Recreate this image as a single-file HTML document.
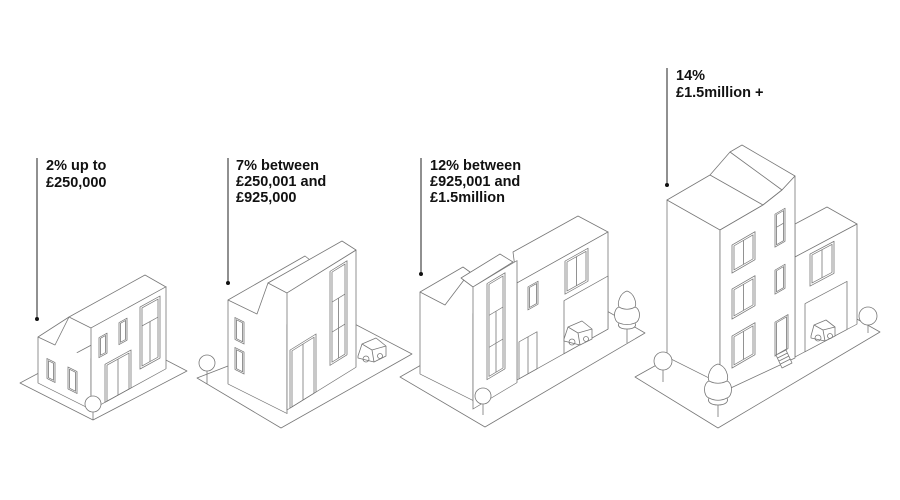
<!DOCTYPE html>
<html><head><meta charset="utf-8"><style>
html,body{margin:0;padding:0;background:#fff;}
svg{display:block}
.t{font-family:"Liberation Sans",sans-serif;font-weight:bold;font-size:14.5px;fill:#111}
</style></head><body>
<svg width="900" height="500" viewBox="0 0 900 500" xmlns="http://www.w3.org/2000/svg">
<g fill="none" stroke="#777" stroke-width="0.8" stroke-linejoin="round">

<!-- ===== Building 1 ===== -->
<polygon points="20,383 93,420 187,371 114,333" fill="#fff"/>
<g transform="matrix(1,0.5,0,1,38,337)">
  <path d="M0,0 L0,46 L53,46 L53,-5" fill="#fff"/>
  <rect x="9" y="17" width="8" height="20"/><rect x="10.5" y="18.5" width="5" height="17"/>
  <rect x="30" y="15" width="9" height="22"/><rect x="31.5" y="16.5" width="6" height="19"/>
</g>
<polygon points="38,337 69,317 55,345" fill="#fff"/>
<polygon points="69,317 145,275 166,287 91,328" fill="#fff"/>
<g transform="matrix(1,-0.55,0,1,91,328)">
  <rect x="0" y="0" width="75" height="82" fill="#fff"/>
  <rect x="8" y="14" width="8" height="20"/><rect x="9.5" y="15.5" width="5" height="17"/>
  <rect x="28" y="10" width="8" height="22"/><rect x="29.5" y="11.5" width="5" height="19"/>
  <rect x="49" y="6" width="20" height="62"/><rect x="51" y="8" width="16" height="58"/><line x1="51" y1="26" x2="67" y2="26"/><line x1="59" y1="26" x2="59" y2="66"/>
  <rect x="14" y="44" width="26" height="38"/><rect x="16" y="46" width="22" height="36"/><line x1="27" y1="46" x2="27" y2="82"/>
</g>
<line x1="93" y1="405" x2="93" y2="420"/><circle cx="93" cy="404" r="8" fill="#fff"/>

<!-- ===== Building 2 ===== -->
<polygon points="197,378 281,428 412,354 347,320" fill="#fff"/>
<!-- car -->
<g transform="translate(372,352)">
  <path d="M-14,4 L-10,-8 L4,-14 L14,-6 L14,4 L2,10 L-14,6 Z" fill="#fff"/>
  <path d="M-10,-8 L0,-2 L14,-6 M0,-2 L2,10"/>
  <circle cx="-6" cy="7" r="3"/><circle cx="8" cy="4" r="2.5"/>
</g>
<line x1="207" y1="368" x2="207" y2="384"/><circle cx="207" cy="363" r="8" fill="#fff"/>
<g transform="matrix(1,0.5,0,1,228,300)">
  <path d="M0,0 L0,84 L59,84 L59,-5" fill="#fff"/>
  <rect x="7" y="14" width="9" height="22"/><rect x="8.5" y="15.5" width="6" height="19"/>
  <rect x="7" y="44" width="9" height="22"/><rect x="8.5" y="45.5" width="6" height="19"/>
</g>
<polygon points="228,300 305,256 310,260 268,283 257,314" fill="#fff"/>
<polygon points="268,283 342,241 356,250 287,293" fill="#fff"/>
<g transform="matrix(1,-0.62,0,1,287,293)">
  <rect x="0" y="0" width="69" height="117" fill="#fff"/>
  <rect x="43" y="5" width="17" height="94"/><rect x="45" y="7" width="13" height="90"/>
  <line x1="45" y1="37" x2="58" y2="37"/><line x1="45" y1="67" x2="58" y2="67"/><line x1="51.5" y1="37" x2="51.5" y2="97"/>
  <rect x="3" y="59" width="26" height="58"/><rect x="5" y="61" width="22" height="56"/><line x1="16" y1="61" x2="16" y2="117"/>
</g>

<!-- ===== Building 3 ===== -->
<polygon points="400,377 485,427 645,333 562,285" fill="#fff"/>
<g transform="translate(627,315)">
  <line x1="0" y1="10" x2="0" y2="28"/>
  <path d="M0,-24 C-7,-22 -10,-12 -8,-8 C-14,-6 -14,6 -8,8 C-10,12 -6,14 0,14 C6,14 10,12 8,8 C14,6 14,-6 8,-8 C10,-12 7,-22 0,-24 Z" fill="#fff"/>
  <path d="M-8,-8 C-3,-5 3,-5 8,-8 M-8,8 C-3,10 3,10 8,8"/>
</g>
<g transform="matrix(1,0.5,0,1,420,292)">
  <path d="M0,0 L0,82 L53,82 L53,-5" fill="#fff"/>
</g>
<polygon points="420,292 463,267 470,272 445,305" fill="#fff"/>
<polygon points="513,252 578,216 608,232 517,283" fill="#fff"/>
<g transform="matrix(1,-0.56,0,1,517,283)">
  <rect x="0" y="0" width="91" height="97" fill="#fff"/>
  <rect x="11" y="10" width="10" height="23"/><rect x="12.5" y="11.5" width="7" height="20"/>
  <rect x="48" y="5" width="23" height="33"/><rect x="50" y="7" width="19" height="29"/><line x1="59.5" y1="7" x2="59.5" y2="36"/>
  <rect x="47" y="44" width="44" height="53" fill="#fff"/>
  <rect x="2" y="60" width="18" height="37"/><line x1="11" y1="60" x2="11" y2="97"/>
</g>
<g transform="translate(578,335)">
  <path d="M-14,4 L-10,-8 L4,-14 L14,-6 L14,4 L2,10 L-14,6 Z" fill="#fff"/>
  <path d="M-10,-8 L0,-2 L14,-6 M0,-2 L2,10"/>
  <circle cx="-6" cy="7" r="3"/><circle cx="8" cy="4" r="2.5"/>
</g>
<polygon points="461,278 500,254 513,262 473,287" fill="#fff"/>
<g transform="matrix(1,-0.6,0,1,473,287)">
  <rect x="0" y="0" width="44" height="122" fill="#fff"/>
  <rect x="14" y="5" width="18" height="96"/><rect x="16" y="7" width="14" height="92"/>
  <line x1="16" y1="38" x2="30" y2="38"/><line x1="16" y1="70" x2="30" y2="70"/><line x1="23" y1="38" x2="23" y2="99"/>
</g>
<line x1="483" y1="398" x2="483" y2="415"/><circle cx="483" cy="396" r="8" fill="#fff"/>

<!-- ===== Building 4 ===== -->
<polygon points="635,377 718,428 880,332 798,286" fill="#fff"/>
<line x1="868" y1="318" x2="868" y2="333"/><circle cx="868" cy="316" r="9" fill="#fff"/>
<polygon points="795,224 827,207 857,224 795,257" fill="#fff"/>
<g transform="matrix(1,-0.53,0,1,795,257)">
  <rect x="0" y="0" width="62" height="100" fill="#fff"/>
  <rect x="15" y="5" width="24" height="32"/><rect x="17" y="7" width="20" height="28"/><line x1="27" y1="7" x2="27" y2="35"/>
  <rect x="10" y="52" width="42" height="48" fill="#fff"/>
</g>
<g transform="translate(823,332)">
  <path d="M-12,4 L-9,-7 L3,-12 L12,-5 L12,4 L2,9 L-12,6 Z" fill="#fff"/>
  <path d="M-9,-7 L0,-2 L12,-5 M0,-2 L2,9"/>
  <circle cx="-5" cy="6" r="3"/><circle cx="7" cy="4" r="2.5"/>
</g>
<g transform="matrix(1,0.5,0,1,667,200)">
  <path d="M0,0 L0,157 L53,157 L53,0 Z" fill="#fff"/>
</g>
<polygon points="667,200 710,175 730,152 742,145 795,176 782,190 763,205 720,230" fill="#fff"/>
<path d="M710,175 L763,205 M730,152 L782,190"/>
<path d="M720,230 L763,205 L782,190 L795,176 L795,358 L720,393 Z" fill="#fff"/>
<g transform="matrix(1,-0.58,0,1,720,230)">
  <rect x="12" y="22" width="23" height="28"/><rect x="14" y="24" width="19" height="24"/><line x1="23.5" y1="24" x2="23.5" y2="48"/>
  <rect x="12" y="66" width="23" height="30"/><rect x="14" y="68" width="19" height="26"/><line x1="23.5" y1="68" x2="23.5" y2="94"/>
  <rect x="12" y="113" width="23" height="32"/><rect x="14" y="115" width="19" height="28"/><line x1="23.5" y1="115" x2="23.5" y2="143"/>
  <rect x="55" y="16" width="10" height="33"/><rect x="56.5" y="17.5" width="7" height="30"/><line x1="56.5" y1="30" x2="63.5" y2="30"/>
  <rect x="55" y="72" width="10" height="24"/><rect x="56.5" y="73.5" width="7" height="21"/>
  <rect x="55" y="124" width="13" height="34"/><rect x="56.5" y="125.5" width="10" height="32"/>
</g>
<g transform="translate(776,355)">
  <path d="M0,0 L10,-5 L16,8 L6,13 Z" fill="#fff"/>
  <path d="M1.5,3 L11.5,-2 M3,6 L13,1 M4.5,9 L14.5,4"/>
</g>
<line x1="663" y1="364" x2="663" y2="382"/><circle cx="663" cy="361" r="9" fill="#fff"/>
<g transform="translate(718,390)">
  <line x1="0" y1="10" x2="0" y2="27"/>
  <path d="M0,-26 C-8,-24 -11,-14 -9,-9 C-15,-7 -15,6 -9,8 C-11,12 -7,15 0,15 C7,15 11,12 9,8 C15,6 15,-7 9,-9 C11,-14 8,-24 0,-26 Z" fill="#fff"/>
  <path d="M-9,-9 C-3,-6 3,-6 9,-9 M-9,8 C-3,11 3,11 9,8"/>
</g>
</g>

<!-- leader lines -->
<g stroke="#222" stroke-width="1">
<line x1="37" y1="158" x2="37" y2="319"/>
<line x1="228" y1="158" x2="228" y2="283"/>
<line x1="421" y1="158" x2="421" y2="274"/>
<line x1="667" y1="68" x2="667" y2="185"/>
</g>
<g fill="#111">
<circle cx="37" cy="319" r="2"/><circle cx="228" cy="283" r="2"/><circle cx="421" cy="274" r="2"/><circle cx="667" cy="185" r="2"/>
</g>

<text class="t" x="46" y="170">2% up to</text>
<text class="t" x="46" y="187">£250,000</text>
<text class="t" x="236" y="170">7% between</text>
<text class="t" x="236" y="186">£250,001 and</text>
<text class="t" x="236" y="202">£925,000</text>
<text class="t" x="430" y="170">12% between</text>
<text class="t" x="430" y="186">£925,001 and</text>
<text class="t" x="430" y="202">£1.5million</text>
<text class="t" x="676" y="80">14%</text>
<text class="t" x="676" y="97">£1.5million +</text>
</svg>
</body></html>
